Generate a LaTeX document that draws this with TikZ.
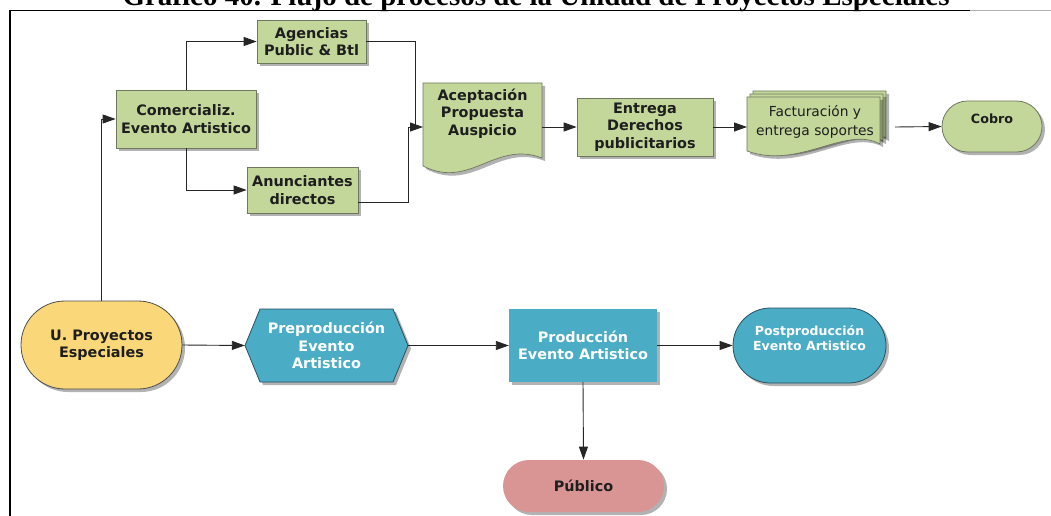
\documentclass[tikz,border=0pt]{standalone}
\usepackage{fontspec}
\setmainfont{DejaVu Sans}
\newfontfamily\titlefont{Liberation Serif}
\usetikzlibrary{shapes.misc,shadows,arrows.meta}
\definecolor{gfill}{RGB}{196,215,155}
\definecolor{gline}{RGB}{110,120,95}
\definecolor{bfill}{RGB}{75,172,198}
\definecolor{bline}{RGB}{40,80,95}
\definecolor{yfill}{RGB}{250,216,122}
\definecolor{pfill}{RGB}{217,149,148}
\definecolor{ink}{RGB}{30,30,30}
\begin{document}
\begin{tikzpicture}[x=1pt,y=-1pt,
  shd/.style={drop shadow={shadow xshift=3pt,shadow yshift=-3pt,opacity=0.3,fill=black}},
  ln/.style={draw=black!85,line width=0.9pt},
  arr/.style={ln,-{Triangle[length=13pt,width=9pt]}},
  lbl/.style={font=\bfseries\fontsize{14.4}{17.5}\selectfont,text=ink,align=center,inner sep=0pt},
  wlbl/.style={lbl,text=white},
  gbox/.style={rectangle,fill=gfill,draw=gline,line width=0.7pt,shd,lbl},
  pill/.style={rounded rectangle,line width=0.8pt,shd,inner sep=0pt},
  docpath/.style={fill=gfill,draw=gline,line width=0.7pt,shd}
]
\clip (0,0) rectangle (1051,516);
\useasboundingbox (0,0) rectangle (1051,516);

% frame and title
\draw[line width=1.8pt] (10,517) -- (10,10.5) -- (970,10.5);
\draw[black!30,line width=1pt] (970,10.5) -- (1051,10.5);
\node[anchor=base,font=\titlefont\bfseries\fontsize{29}{30}\selectfont,inner sep=0pt] (title) at (536,6) {Gráfico 40. Flujo de procesos de la Unidad de Proyectos Especiales};

% top row
\node[gbox,minimum width=109pt,minimum height=43pt] (age) at (311.5,41.5) {Agencias\\Public \& Btl};
\node[gbox,minimum width=140pt,minimum height=58pt] (com) at (186,119) {Comercializ.\\Evento Artistico};
\node[gbox,minimum width=111pt,minimum height=46pt] (anu) at (302.5,190) {Anunciantes\\directos};

\path[docpath] (423,83) -- (542,83) -- (542,158) .. controls (495,140) and (470,190) .. (423,166) -- cycle;
\node[lbl] (acep) at (482.5,113.5) {Aceptación\\Propuesta\\Auspicio};
\coordinate (acepin) at (423,127);
\coordinate (acepout) at (542,127);

\node[gbox,minimum width=136pt,minimum height=58pt] (ent) at (645,127) {Entrega\\Derechos\\publicitarios};

\foreach \d in {6,3,0}{
  \begin{scope}[shift={(\d,-\d)}]
    \path[docpath] (747,97) -- (880,97) -- (880,144) .. controls (845,125) and (800,170) .. (747,151) -- cycle;
  \end{scope}
}
\node[font=\fontsize{13.8}{19.5}\selectfont,text=ink,align=center,inner sep=0pt] (fac) at (815,122) {Facturación y\\entrega soportes};
\coordinate (facin) at (747,127);
\coordinate (facout) at (895,127);

\node[pill,fill=gfill,draw=gline,minimum width=100pt,minimum height=51pt] (cob) at (992,126.5) {};
\node[lbl,font=\bfseries\fontsize{12.7}{15}\selectfont] (cobt) at (992,118.5) {Cobro};

% bottom row
\node[pill,fill=yfill,draw=black!70,minimum width=161pt,minimum height=88pt,lbl] (upe) at (101.5,345) {U. Proyectos\\Especiales};

\path[fill=bfill,draw=bline,line width=0.8pt,shd] (245,345.5) -- (260,309) -- (393,309) -- (408,345.5) -- (393,382) -- (260,382) -- cycle;
\node[wlbl,minimum width=163pt,minimum height=73pt] (pre) at (326.5,345.5) {Preproducción\\Evento\\Artistico};

\node[rectangle,fill=bfill,shd,wlbl,minimum width=148pt,minimum height=73pt] (pro) at (583,345.5) {Producción\\Evento Artistico};

\node[pill,fill=bfill,draw=bline,minimum width=153pt,minimum height=75pt] (post) at (809.5,345.5) {};
\node[wlbl,font=\bfseries\fontsize{12.5}{15.5}\selectfont] (postt) at (809.5,338) {Postproducción\\Evento Artistico};

\node[pill,fill=pfill,minimum width=161pt,minimum height=52pt,lbl] (pub) at (583.5,486) {Público};

% connectors
\draw[arr] (upe.north) |- (com.west);
\draw[arr] (com.north) |- (age.west);
\draw[arr] (com.south) |- (anu.west);
\coordinate (j1) at (415,127);
\coordinate (j2) at (408,127);
\draw[ln] (age.east) -| (j1);
\draw[ln] ([yshift=-12pt]anu.east) -| (j2);
\draw[arr] (j2) -- (acepin);
\draw[arr] (acepout) -- (ent.west);
\draw[arr] (ent.east) -- (facin);
\draw[arr] (facout) -- (cob.west);
\draw[arr] (upe.east) -- (pre.west);
\draw[arr] (pre.east) -- (pro.west);
\draw[arr] (pro.east) -- (post.west);
\draw[arr] (pro.south) -- (pub.north);
\end{tikzpicture}
\end{document}
